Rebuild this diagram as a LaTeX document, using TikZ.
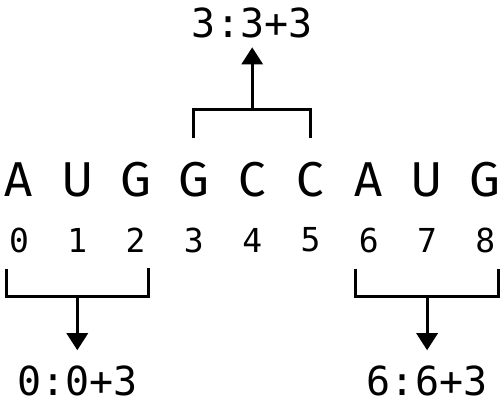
\documentclass[tikz,border=0pt]{standalone}
\usepackage{fontspec}
\setmainfont{Fira Sans}
\newfontfamily\digitfont{DejaVu Sans Mono}
\usetikzlibrary{positioning, arrows.meta}
\tikzset{
    nucleo/.style={inner sep=0pt, font=\fontsize{49}{49}\selectfont}, % the letters of the strand
    idx/.style={inner sep=0pt, font=\digitfont\fontsize{33}{33}\selectfont}, % the position under each letter
    sumlabel/.style={inner sep=0pt, font=\digitfont\fontsize{40}{40}\selectfont}, % the start:start+length labels
    bracket/.style={line width=3pt}, % the thick brackets and arrows
    >={Triangle[width=21pt,length=17pt]}, % makes the arrow heads filled triangles
    node distance=58.3pt, % distance between two letters
}
\begin{document}
\begin{tikzpicture}
                  \useasboundingbox (0,0) rectangle (501pt,405pt);
                  \node[nucleo] at (19pt,225pt) (n0) {A};
                  \node[nucleo, right of=n0] (n1) {U};
                  \node[nucleo, right of=n1] (n2) {G};
                  \node[nucleo, right of=n2] (n3) {G};
                  \node[nucleo, right of=n3] (n4) {C};
                  \node[nucleo, right of=n4] (n5) {C};
                  \node[nucleo, right of=n5] (n6) {A};
                  \node[nucleo, right of=n6] (n7) {U};
                  \node[nucleo, right of=n7] (n8) {G};
                  \node[idx] at (19pt,165pt) (i0) {0};
                  \node[idx, right of=i0] (i1) {1};
                  \node[idx, right of=i1] (i2) {2};
                  \node[idx, right of=i2] (i3) {3};
                  \node[idx, right of=i3] (i4) {4};
                  \node[idx, right of=i4] (i5) {5};
                  \node[idx, right of=i5] (i6) {6};
                  \node[idx, right of=i6] (i7) {7};
                  \node[idx, right of=i7] (i8) {8};
                  % codon 3 goes up
                  \coordinate[above=53pt of n4] (top3);
                  \node[sumlabel, above=71pt of top3] (sum3) {3:3+3};
                  \draw[bracket] ([yshift=24pt]n3.north) |- (top3) -| ([yshift=24pt]n5.north);
                  \draw[bracket, ->, shorten >=9pt] (top3) -- (sum3);
                  % codons 0 and 6 go down
                  \coordinate[below=44pt of i1] (bot0);
                  \coordinate[below=44pt of i7] (bot6);
                  \node[sumlabel, below=69pt of bot0] (sum0) {0:0+3};
                  \node[sumlabel, below=69pt of bot6] (sum6) {6:6+3};
                  \draw[bracket] ([xshift=-13pt, yshift=-16pt]i0.south) |- (bot0) -| ([xshift=13pt, yshift=-16pt]i2.south);
                  \draw[bracket] ([xshift=-13pt, yshift=-16pt]i6.south) |- (bot6) -| ([xshift=13pt, yshift=-16pt]i8.south);
                  \draw[bracket, ->, shorten >=15pt] (bot0) -- (sum0);
                  \draw[bracket, ->, shorten >=15pt] (bot6) -- (sum6);
              \end{tikzpicture}
\end{document}
